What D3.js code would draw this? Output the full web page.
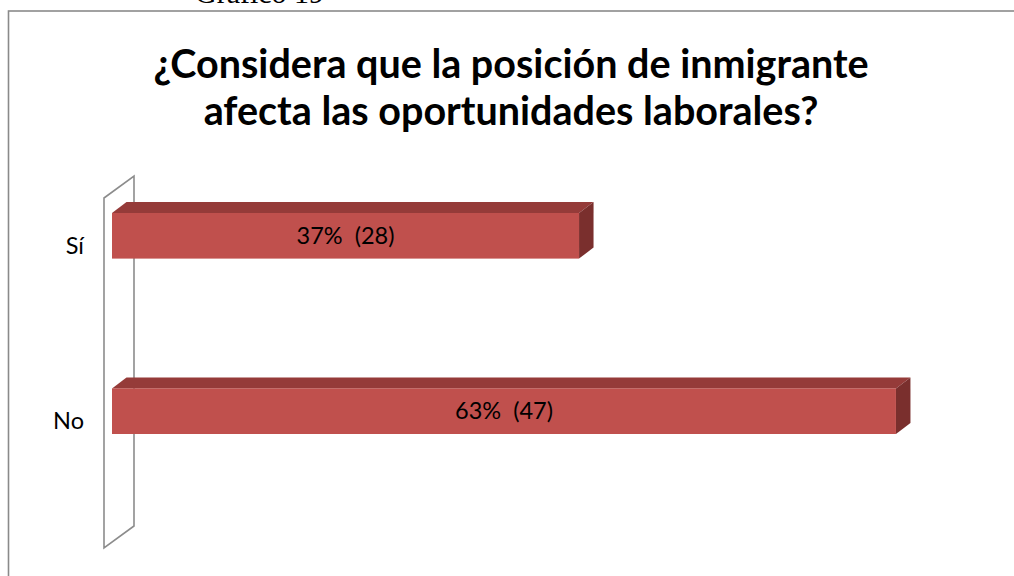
<!DOCTYPE html>
<html>
<head>
<meta charset="utf-8">
<script src="https://cdn.jsdelivr.net/npm/d3@7"></script>
<style>
  html, body { margin: 0; padding: 0; background: #fff; }
  svg { display: block; }
  text { white-space: pre; }
</style>
</head>
<body>
<svg id="chart" width="1014" height="576"></svg>
<script>
// Survey answers
const categories = ["Sí", "No"];
const counts = [28, 47];
const percents = [37, 63];
const titleLines = [
  "¿Considera que la posición de inmigrante",
  "afecta las oportunidades laborales?"
];
const captionText = "Gráfico 19";

const svg = d3.select("#chart");

// Caption above the chart frame (partly hidden behind the page top)
svg.append("text")
  .attr("x", 195).attr("y", 3)
  .attr("font-family", "'Liberation Serif', 'Times New Roman', serif")
  .attr("font-size", 30)
  .attr("fill", "#000")
  .text(captionText);

// Chart frame
svg.append("rect")
  .attr("x", 8.5).attr("y", 11)
  .attr("width", 1040).attr("height", 600)
  .attr("fill", "#fff")
  .attr("stroke", "#8a8a8a")
  .attr("stroke-width", 1.6);

// Title
svg.append("g").selectAll("text")
  .data(titleLines)
  .join("text")
  .attr("x", 511)
  .attr("y", (d, i) => 78 + i * 47)
  .attr("text-anchor", "middle")
  .attr("font-family", "Lato, 'Open Sans', sans-serif")
  .attr("font-weight", "bold")
  .attr("font-size", 39.5)
  .attr("fill", "#000")
  .text(d => d);

// Scales
const x = d3.scaleLinear().domain([0, 50]).range([112, 946]);
const y = d3.scaleBand().domain(categories).range([213, 434])
  .paddingInner(0.74).paddingOuter(0);

const depthX = 14.5, depthY = -11;

// Left wall of the 3D plot area
const wallFront = 104, wallDX = 30, wallDY = -22, wallTop = 198, wallBottom = 548;
svg.append("path")
  .attr("d", d3.line()([
    [wallFront, wallTop],
    [wallFront + wallDX, wallTop + wallDY],
    [wallFront + wallDX, wallBottom + wallDY],
    [wallFront, wallBottom]
  ]) + "Z")
  .attr("fill", "none")
  .attr("stroke", "#8c8c8c")
  .attr("stroke-width", 1.6);

const rows = categories.map((c, i) => ({ cat: c, count: counts[i], pct: percents[i] }));

const bars = svg.append("g").selectAll("g")
  .data(rows)
  .join("g");

// Top face
bars.append("path")
  .attr("d", d => {
    const x0 = x(0), x1 = x(d.count), y0 = y(d.cat);
    return d3.line()([
      [x0, y0], [x0 + depthX, y0 + depthY],
      [x1 + depthX, y0 + depthY], [x1, y0]
    ]) + "Z";
  })
  .attr("fill", "#953b39");

// Side face
bars.append("path")
  .attr("d", d => {
    const x1 = x(d.count), y0 = y(d.cat), y1 = y0 + y.bandwidth();
    return d3.line()([
      [x1, y0], [x1 + depthX, y0 + depthY],
      [x1 + depthX, y1 + depthY], [x1, y1]
    ]) + "Z";
  })
  .attr("fill", "#7a2f2d");

// Front face
bars.append("rect")
  .attr("x", x(0))
  .attr("y", d => y(d.cat))
  .attr("width", d => x(d.count) - x(0))
  .attr("height", y.bandwidth())
  .attr("fill", "#c0504d");

// Value labels
bars.append("text")
  .attr("x", d => (x(0) + x(d.count)) / 2)
  .attr("y", d => y(d.cat) + y.bandwidth() / 2)
  .attr("dy", "0.35em")
  .attr("text-anchor", "middle")
  .attr("font-family", "Lato, 'Open Sans', sans-serif")
  .attr("font-size", 23.5)
  .attr("fill", "#000")
  .text(d => `${d.pct}%  (${d.count})`);

// Category labels
svg.append("g").selectAll("text")
  .data(categories)
  .join("text")
  .attr("x", 84)
  .attr("y", d => y(d) + y.bandwidth() / 2 + 10)
  .attr("dy", "0.35em")
  .attr("text-anchor", "end")
  .attr("font-family", "Lato, 'Open Sans', sans-serif")
  .attr("font-size", 23.5)
  .attr("fill", "#000")
  .text(d => d);
</script>
</body>
</html>
